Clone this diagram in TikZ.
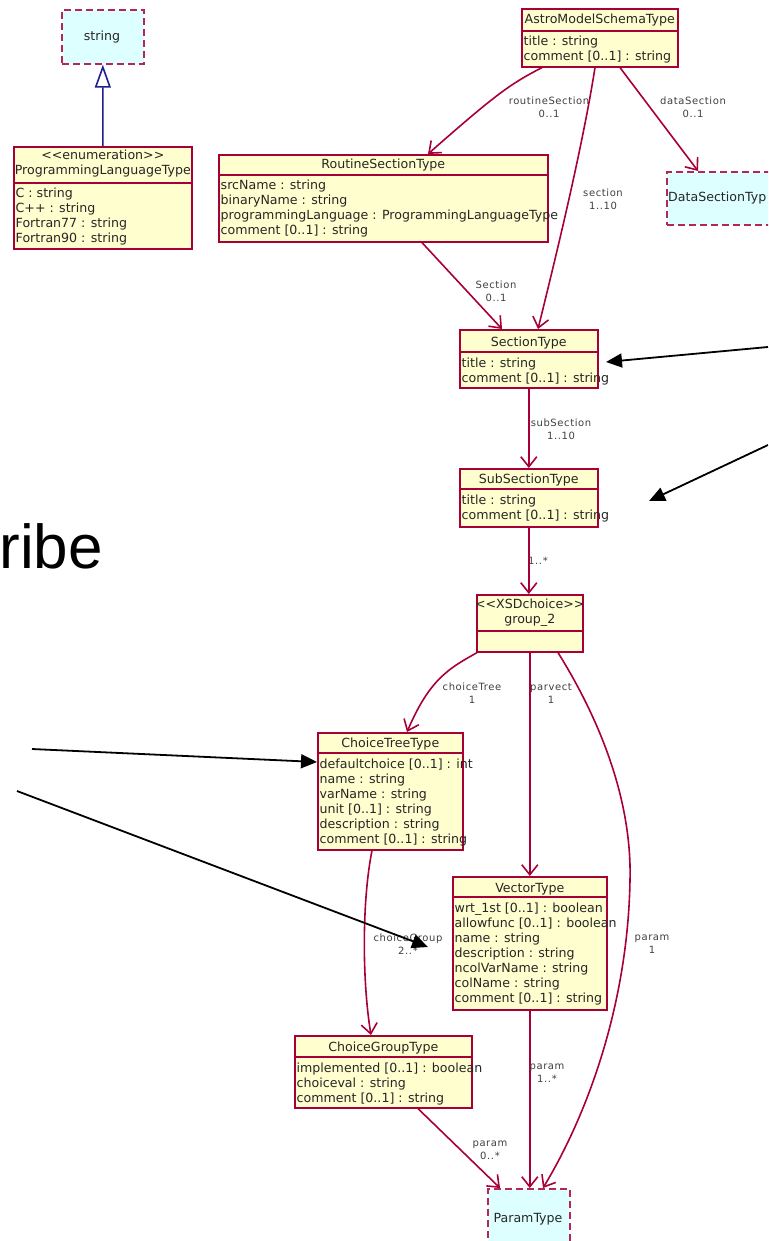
\documentclass[tikz,border=0pt]{standalone}
\usepackage{fontspec}
\setmainfont{DejaVu Sans}
\newfontfamily\umlfont{DejaVu Sans}
\newfontfamily\lblfont[LetterSpace=6]{DejaVu Sans}
\newfontfamily\bigfont{Liberation Sans}
\usetikzlibrary{arrows.meta}
\definecolor{umlfill}{HTML}{FEFECE}
\definecolor{umlborder}{HTML}{A80036}
\definecolor{typefill}{HTML}{DDFFFF}
\definecolor{gencolor}{HTML}{1F1F8F}
\definecolor{lblcolor}{HTML}{404040}
\tikzset{
  cls/.style={draw=umlborder, fill=umlfill, line width=1.6pt, inner sep=0pt, rectangle},
  dtype/.style={draw=umlborder!85, fill=typefill, line width=1.7pt, dash pattern=on 7pt off 4pt, inner sep=0pt, rectangle},
  hdr/.style={font=\umlfont\fontsize{12.6}{15}\selectfont, inner sep=0pt, text=black!85},
  attr/.style={font=\umlfont\fontsize{12.6}{15}\selectfont, inner sep=0pt, text=black!85},
  sepline/.style={draw=umlborder, line width=1.4pt},
  assoc/.style={draw=umlborder, line width=1.6pt, -{Straight Barb[length=10pt,width=16pt]}},
  genarrow/.style={draw=gencolor, line width=1.6pt, -{Triangle[open, length=23pt, width=16pt, fill=white]}},
  lbl/.style={font=\lblfont\fontsize{10}{13}\selectfont, text=lblcolor, align=center, inner sep=0pt},
  callout/.style={draw=black, line width=1.8pt, -{Triangle[length=16pt,width=14pt]}},
}
% name, x, y, w, h, sep offset, header baseline offset, header lines, attribute lines
\newcommand\umlclass[9]{%
  \node[cls, minimum width=#4pt, minimum height=#5pt, anchor=north west] (#1) at (#2,#3) {};
  \draw[sepline] ([yshift=-#6pt]#1.north west) -- ([yshift=-#6pt]#1.north east);
  \foreach \h [count=\j] in {#8} {
    \node[hdr, anchor=base] (#1-h\j) at ([yshift=-#7pt-15pt*\j+15pt]#1.north) {\h};
  }
  \foreach \t [count=\i] in {#9} {
    \node[attr, anchor=base west] (#1-a\i) at ([xshift=2.5pt, yshift=-#6pt-15pt*\i]#1.north west) {\t};
  }
}
\begin{document}
\begin{tikzpicture}[x=1pt, y=-1pt]
\useasboundingbox (0,0) rectangle (768,1241);
\clip (0,0) rectangle (768,1241);
\fill[white] (0,0) rectangle (768,1241);

% data types (dashed)
\node[dtype, minimum width=82pt, minimum height=54pt, anchor=north west] (string) at (61,9) {};
\node[hdr, anchor=base] (string-t) at (102,41) {string};
\node[dtype, minimum width=130pt, minimum height=53pt, anchor=north west] (data) at (666,171) {};
\node[hdr, anchor=base west] (data-t) at (668,202) {DataSectionTyp};
\node[dtype, minimum width=82pt, minimum height=80pt, anchor=north west] (param) at (487,1188) {};
\node[hdr, anchor=base] (param-t) at (528,1222) {ParamType};

% classes
\umlclass{astro}{521}{8}{156}{58}{23}{16}{AstroModelSchemaType}{title : string, comment [0..1] : string}
\umlclass{plt}{13}{146}{178}{102}{37}{14}{<<enumeration>>, ProgrammingLanguageType}{C : string, C++ : string, Fortran77 : string, Fortran90 : string}
\umlclass{routine}{218}{154}{329}{87}{21}{15}{RoutineSectionType}{srcName : string, binaryName : string, programmingLanguage : ProgrammingLanguageType, comment [0..1] : string}
\umlclass{section}{459}{329}{138}{58}{23}{17}{SectionType}{title : string, comment [0..1] : string}
\umlclass{sub}{459}{468}{138}{58}{21}{15}{SubSectionType}{title : string, comment [0..1] : string}
\umlclass{group}{476}{594}{106}{57}{37}{14}{<<XSDchoice>>, group\_2}{}
\umlclass{choicetree}{317}{732}{145}{117}{21}{15}{ChoiceTreeType}{defaultchoice [0..1] : int, name : string, varName : string, unit [0..1] : string, description : string, comment [0..1] : string}
\umlclass{vector}{452}{876}{154}{133}{21}{16}{VectorType}{wrt\_1st [0..1] : boolean, allowfunc [0..1] : boolean, name : string, description : string, ncolVarName : string, colName : string, comment [0..1] : string}
\umlclass{choicegroup}{294}{1035}{177}{72}{22}{16}{ChoiceGroupType}{implemented [0..1] : boolean, choiceval : string, comment [0..1] : string}

% generalization
\draw[genarrow] (plt.north) -- (string.south);

% associations
\draw[assoc] ([xshift=21pt]astro.south west) .. controls (510,84) and (495,95) .. ([xshift=210pt]routine.north west);
\draw[assoc] ([xshift=74pt]astro.south west) .. controls (582,150) and (555,260) .. ([xshift=79pt]section.north west);
\draw[assoc] ([xshift=99pt]astro.south west) -- ([xshift=32pt]data.north west);
\draw[assoc] ([xshift=204pt]routine.south west) -- ([xshift=43pt]section.north west);
\draw[assoc] (section.south) -- (sub.north);
\draw[assoc] (sub.south) -- (sub.south |- group.north);
\draw[assoc] ([xshift=1pt]group.south west) .. controls (450,668) and (430,678) .. ([xshift=90pt]choicetree.north west);
\draw[assoc] (group.south) -- (vector.north);
\draw[assoc] ([xshift=82pt]group.south west) .. controls (600,720) and (632,800) .. (630,880) .. controls (628,1000) and (590,1110) .. ([xshift=56pt]param.north west);
\draw[assoc] ([xshift=55pt]choicetree.south west) .. controls (362,900) and (362,980) .. ([xshift=77pt]choicegroup.north west);
\draw[assoc] (vector.south) -- (vector.south |- param.north);
\draw[assoc] ([xshift=124pt]choicegroup.south west) -- ([xshift=13pt]param.north west);

% association labels
\node[lbl] (l1) at (549,107.5) {routineSection\\0..1};
\node[lbl] (l2) at (603,199.5) {section\\1..10};
\node[lbl] (l3) at (693,107.5) {dataSection\\0..1};
\node[lbl] (l4) at (496,291) {Section\\0..1};
\node[lbl] (l5) at (561,429) {subSection\\1..10};
\node[lbl] (l6) at (538,561) {1..*};
\node[lbl] (l7) at (472,693) {choiceTree\\1};
\node[lbl] (l8) at (551,693) {parvect\\1};
\node[lbl] (l9) at (652,944.5) {param\\1};
\node[lbl] (l10) at (408,944.5) {choiceGroup\\2..*};
\node[lbl] (l11) at (547,1073.5) {param\\1..*};
\node[lbl] (l12) at (490,1150) {param\\0..*};

% large text fragment
\node[font=\bigfont\fontsize{62}{68}\selectfont, anchor=base east, inner sep=0pt] (ribe) at (103,568) {ribe};

% black callout arrows
\coordinate (tA) at (768,347);
\coordinate (hA) at (606,362);
\coordinate (tB) at (768,445);
\coordinate (hB) at (649,501);
\coordinate (tC) at (32,749);
\coordinate (tD) at (17,791);
\coordinate (hD) at (428,947);
\draw[callout] (tA) -- (hA);
\draw[callout] (tB) -- (hB);
\draw[callout] (tC) -- ([yshift=-30pt]choicetree.north west);
\draw[callout] (tD) -- (hD);
\end{tikzpicture}
\end{document}
